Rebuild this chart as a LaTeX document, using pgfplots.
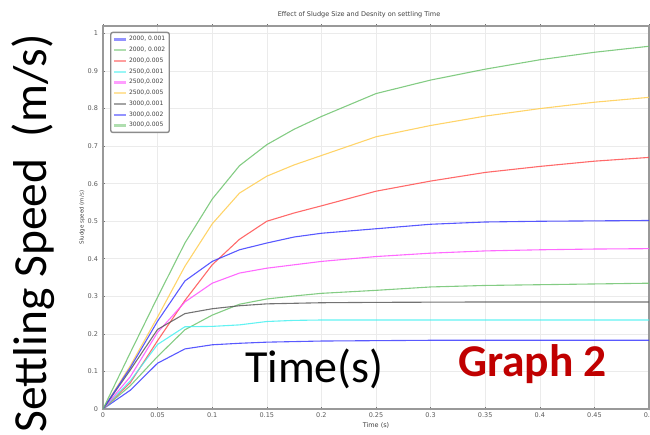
\documentclass[border=0pt]{standalone}
\usepackage{pgfplots}
\pgfplotsset{compat=1.18}
\usepackage{fontspec}
\setmainfont{DejaVu Sans}
\newfontfamily\calibri{Carlito}

\definecolor{cblue}{RGB}{60,60,255}
\definecolor{cgreen}{RGB}{110,195,110}
\definecolor{cred}{RGB}{255,80,80}
\definecolor{ccyan}{RGB}{70,240,240}
\definecolor{cmag}{RGB}{255,80,255}
\definecolor{cyel}{RGB}{255,205,80}
\definecolor{cgray}{RGB}{90,90,90}
\definecolor{graphred}{RGB}{192,0,0}

\begin{document}
\begin{tikzpicture}
\useasboundingbox (0pt,0pt) rectangle (650pt,435pt);
\begin{axis}[
    at={(103pt,26pt)}, anchor=south west,
    scale only axis, width=546pt, height=383pt,
    xmin=0, xmax=0.5, ymin=0, ymax=1.02,
    xtick={0,0.05,0.1,0.15,0.2,0.25,0.3,0.35,0.4,0.45,0.5},
    ytick={0,0.1,0.2,0.3,0.4,0.5,0.6,0.7,0.8,0.9,1},
    /pgf/number format/assume math mode=true,
    /pgf/number format/fixed,
    /pgf/number format/precision=2,
    tick label style={font=\fontsize{6.5}{7}\selectfont, text=black!65},
    xticklabel style={yshift=1pt},
    grid=major,
    major grid style={black!8, line width=0.6pt},
    axis line style={black!40, line width=1.2pt},
    tick style={black!55, line width=0.6pt},
    tick align=center, major tick length=3pt,
    title={Effect of Sludge Size and Desnity on settling Time},
    title style={at={(0.469,1)}, anchor=south, yshift=-1pt, font=\fontsize{6.5}{7}\selectfont, text=black!75},
    xlabel={Time (s)},
    xlabel style={font=\fontsize{6.5}{7}\selectfont, text=black!75, yshift=2pt},
    ylabel={Sludge speed (m/s)},
    ylabel style={font=\fontsize{5.5}{6}\selectfont, text=black!75, yshift=-4pt},
    legend style={at={(0.013,0.985)}, anchor=north west,
        draw=black!45, line width=1.4pt, rounded corners=2pt,
        font=\fontsize{6}{7.5}\selectfont, text=black!75,
        row sep=0.8pt, inner sep=2pt},
    legend cell align=left,
    legend image code/.code={\draw[#1, line width=2.2pt, opacity=0.55] (0pt,0pt) -- (12pt,0pt);},
    every axis plot/.append style={line width=1.1pt, opacity=0.85},
]
% 2000, 0.001
\addplot[cblue] coordinates {(0,0) (0.025,0.05) (0.05,0.122) (0.075,0.16) (0.1,0.171) (0.125,0.175) (0.15,0.178) (0.2,0.181) (0.25,0.182) (0.3,0.183) (0.35,0.183) (0.4,0.183) (0.45,0.183) (0.5,0.183)};
% 2000, 0.002
\addplot[cgreen] coordinates {(0,0) (0.025,0.062) (0.05,0.14) (0.075,0.211) (0.1,0.25) (0.125,0.279) (0.15,0.293) (0.175,0.301) (0.2,0.308) (0.25,0.316) (0.3,0.325) (0.35,0.329) (0.4,0.331) (0.45,0.333) (0.5,0.335)};
% 2000, 0.005
\addplot[cred] coordinates {(0,0) (0.025,0.07) (0.05,0.182) (0.075,0.289) (0.1,0.384) (0.125,0.452) (0.15,0.5) (0.175,0.522) (0.2,0.541) (0.25,0.58) (0.3,0.607) (0.35,0.63) (0.4,0.646) (0.45,0.66) (0.5,0.67)};
% 2500, 0.001
\addplot[ccyan] coordinates {(0,0) (0.025,0.075) (0.05,0.172) (0.075,0.219) (0.1,0.22) (0.125,0.224) (0.15,0.233) (0.175,0.236) (0.2,0.237) (0.3,0.237) (0.4,0.237) (0.5,0.237)};
% 2500, 0.002
\addplot[cmag] coordinates {(0,0) (0.025,0.086) (0.05,0.204) (0.075,0.285) (0.1,0.335) (0.125,0.362) (0.15,0.375) (0.175,0.384) (0.2,0.393) (0.25,0.406) (0.3,0.415) (0.35,0.421) (0.4,0.424) (0.45,0.426) (0.5,0.427)};
% 2500, 0.005
\addplot[cyel] coordinates {(0,0) (0.025,0.115) (0.05,0.245) (0.075,0.38) (0.1,0.493) (0.125,0.575) (0.15,0.62) (0.175,0.65) (0.2,0.675) (0.25,0.725) (0.3,0.755) (0.35,0.78) (0.4,0.8) (0.45,0.817) (0.5,0.83)};
% 3000, 0.001
\addplot[cgray] coordinates {(0,0) (0.025,0.104) (0.05,0.212) (0.075,0.254) (0.1,0.267) (0.125,0.275) (0.15,0.28) (0.2,0.283) (0.25,0.284) (0.35,0.285) (0.5,0.285)};
% 3000, 0.002
\addplot[cblue] coordinates {(0,0) (0.025,0.11) (0.05,0.234) (0.075,0.341) (0.1,0.393) (0.125,0.424) (0.15,0.442) (0.175,0.458) (0.2,0.468) (0.25,0.48) (0.3,0.492) (0.35,0.498) (0.4,0.5) (0.45,0.501) (0.5,0.502)};
% 3000, 0.005
\addplot[cgreen] coordinates {(0,0) (0.025,0.15) (0.05,0.298) (0.075,0.442) (0.1,0.559) (0.125,0.648) (0.15,0.704) (0.175,0.745) (0.2,0.779) (0.25,0.84) (0.3,0.876) (0.35,0.905) (0.4,0.93) (0.45,0.95) (0.5,0.966)};
\legend{{2000, 0.001},{2000, 0.002},{2000,0.005},{2500,0.001},{2500,0.002},{2500,0.005},{3000,0.001},{3000,0.002},{3000,0.005}}
\end{axis}
\node[rotate=90, anchor=base west, inner sep=0pt, font=\calibri\fontsize{47.5}{50}\selectfont] at (46pt,2pt) {Settling Speed\ \ (m/s)};
\node[anchor=base west, inner sep=0pt, font=\calibri\fontsize{46}{50}\selectfont] at (245pt,52pt) {Time(s)};
\node[anchor=base west, inner sep=0pt, text=graphred, font=\calibri\bfseries\fontsize{45.5}{50}\selectfont] at (458pt,58pt) {Graph 2};
\end{tikzpicture}
\end{document}
